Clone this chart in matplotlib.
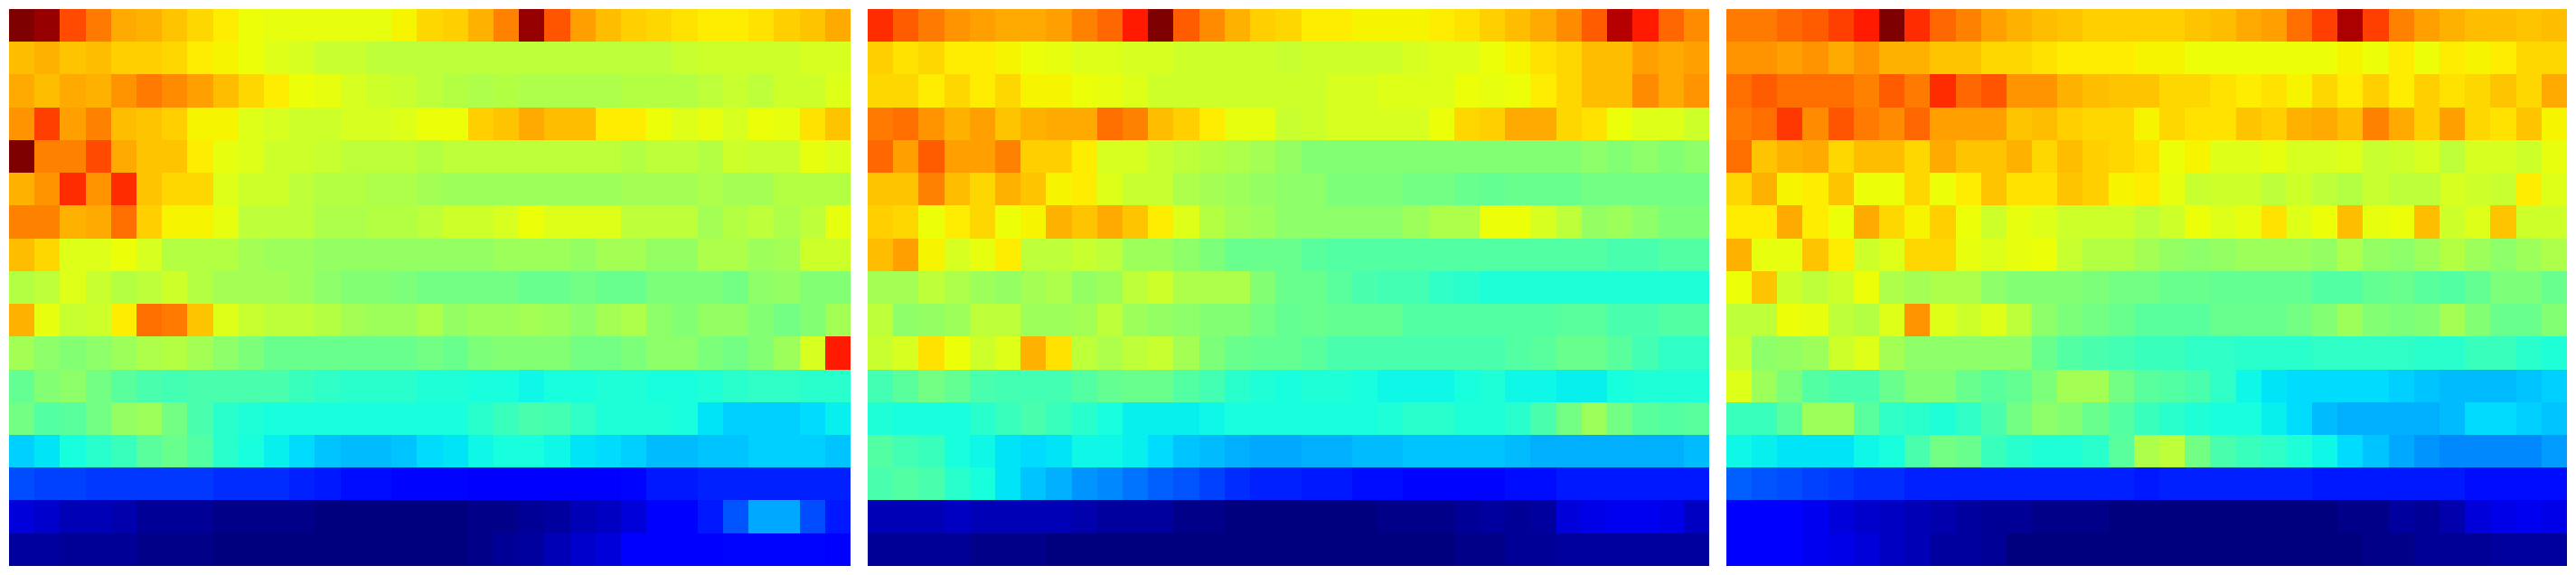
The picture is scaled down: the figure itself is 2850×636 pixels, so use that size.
import numpy as np
import matplotlib
matplotlib.use('Agg')
import matplotlib.pyplot as plt

panel_left = [
    [100,98,83,78,73,72,70,68,66,64,63,63,63,63,63,65,68, 69,72,77,98,82,74,71,69,68,67,66,66,67,69,70,73],
    [71,72,70,71,69,69,68,66,65,64,62,61,59,59,58,58,58, 58,58,58,58,58,58,58,58,58,59,60,60,60,60,61,61],
    [73,71,73,72,75,78,76,74,71,68,66,64,63,61,60,59,58, 57,56,57,56,56,56,56,57,57,57,58,59,58,60,60,62],
    [75,84,74,77,71,70,69,65,65,62,61,60,60,61,61,62,64, 64,69,70,73,71,71,66,66,64,62,63,61,64,63,67,70],
    [100,77,77,83,73,70,70,66,63,62,60,60,59,58,58,58,57, 58,58,58,58,58,58,58,57,58,58,57,60,59,59,63,62],
    [72,75,86,75,86,70,68,68,62,60,60,58,57,57,56,56,55, 54,54,54,54,54,54,54,55,55,55,56,55,55,57,57,57],
    [77,77,72,73,79,69,65,65,63,58,58,58,56,56,57,57,58, 60,60,61,64,62,62,62,58,58,58,55,57,58,56,58,63],
    [71,68,62,62,64,61,57,57,57,55,54,54,53,53,53,53,53, 53,53,54,54,54,53,55,55,53,53,56,56,54,55,60,60],
    [57,58,62,59,57,58,60,57,55,55,55,54,52,51,51,50,49, 49,49,49,48,48,49,48,48,50,50,50,49,52,53,51,51],
    [72,63,59,60,66,79,78,70,62,59,58,58,57,55,54,54,56, 53,54,54,55,54,52,55,56,52,51,53,53,51,49,51,55],
    [55,52,51,52,54,56,57,55,52,50,48,48,48,48,48,48,49, 48,50,51,51,51,49,49,50,52,52,50,49,51,54,61,88],
    [47,51,52,49,46,44,43,44,44,44,44,42,41,40,40,40,39, 39,38,38,37,38,38,39,39,38,38,39,40,41,41,40,40],
    [49,45,46,49,53,54,49,44,40,39,38,38,38,38,38,38,38, 38,40,42,44,43,41,39,39,39,38,35,33,33,33,34,36],
    [33,35,38,40,42,46,48,45,40,38,36,34,32,31,31,32,34, 35,37,38,38,37,35,34,33,31,31,32,32,33,33,33,32],
    [20,19,19,18,18,18,18,18,17,17,17,16,15,14,14,13,13, 13,12,12,12,12,12,12,13,15,15,16,16,16,16,16,16],
    [8,7,5,5,4,2,2,2,1,1,1,1,0,0,0,0,0, 0,1,1,2,3,5,6,8,11,12,15,21,29,29,20,15],
    [3,3,2,2,2,1,1,1,0,0,0,0,0,0,0,0,0, 0,1,2,3,5,7,8,11,11,11,12,13,13,13,13,12],
]

panel_mid = [
    [86,81,78,75,74,73,73,74,77,80,88,100,81,76,72,69,68, 66,66,65,65,65,66,67,69,71,73,76,81,95,88,80,76],
    [69,67,68,66,66,65,64,63,62,62,61,61,60,60,60,60,59, 60,60,60,60,61,62,62,64,65,67,68,71,71,74,73,74],
    [68,68,66,68,66,68,65,65,64,63,62,60,60,60,60,60,60, 60,61,61,62,62,62,64,63,64,66,68,71,71,76,73,75],
    [78,79,75,72,74,70,72,73,73,79,77,71,69,66,63,63,59, 60,61,61,61,61,64,68,69,73,73,68,67,64,62,62,60],
    [80,74,81,74,74,77,69,69,66,61,61,59,58,57,56,55,53, 51,51,51,51,51,51,51,51,51,51,51,52,51,52,51,52],
    [70,70,77,71,68,72,70,65,66,62,59,59,56,55,54,53,52, 52,50,50,50,49,49,48,47,48,48,48,49,49,49,49,49],
    [69,68,64,66,68,64,65,72,70,73,70,66,62,57,55,54,52, 52,52,52,52,54,56,56,64,64,61,58,53,54,52,50,50],
    [71,74,65,61,63,66,58,58,59,58,54,54,52,50,48,48,48, 46,45,45,45,45,45,45,45,45,45,45,45,44,44,45,45],
    [55,55,58,56,54,53,55,56,53,54,58,60,56,56,56,51,48, 48,46,44,43,43,41,40,39,39,39,39,39,39,39,39,39],
    [58,52,53,54,58,58,54,54,55,58,54,53,52,51,51,49,47, 48,47,47,47,45,45,45,45,45,45,46,46,44,44,45,45],
    [59,61,67,64,60,62,72,67,58,56,58,59,55,50,48,47,47, 46,44,44,44,44,44,44,44,45,46,48,48,46,43,41,41],
    [43,46,49,47,44,43,43,43,45,47,48,48,45,43,40,39,38, 39,39,38,37,37,37,38,39,37,37,36,36,38,39,39,39],
    [39,38,38,38,40,42,44,42,40,38,36,36,36,37,38,38,38, 38,38,38,39,40,40,39,39,40,44,49,54,49,46,45,46],
    [45,43,42,38,37,35,34,35,37,37,36,34,32,31,30,29,29, 30,30,31,31,32,32,32,32,31,30,30,30,30,30,30,31],
    [44,45,44,40,38,35,32,30,27,26,24,22,21,19,17,16,16, 15,15,14,14,13,13,13,13,14,14,15,15,15,15,15,15],
    [5,5,5,6,5,5,5,5,4,3,3,3,1,1,0,0,0, 0,0,0,1,1,1,2,3,2,3,8,9,10,10,9,6],
    [2,2,2,2,1,1,1,0,0,0,0,0,0,0,0,0,0, 0,0,0,0,0,0,1,1,2,2,3,3,3,3,3,3],
]

panel_right = [
    [78,78,80,81,84,88,100,86,80,77,74,72,71,70,69,69,69, 69,70,71,73,74,79,84,96,84,77,74,72,71,71,70,71],
    [75,75,74,75,73,75,72,72,70,70,68,68,67,66,66,66,65, 65,64,64,64,64,64,64,65,64,66,64,66,65,66,68,68],
    [79,81,79,79,79,77,81,78,86,80,82,75,75,72,71,70,70, 68,68,67,66,67,65,68,66,69,66,69,67,68,70,68,73],
    [78,79,85,76,82,78,76,80,74,74,74,70,71,69,68,68,65, 68,67,67,70,69,72,73,71,77,73,69,74,68,67,70,65],
    [79,70,72,73,68,71,71,68,73,70,70,72,68,71,69,68,67, 64,65,62,62,63,61,61,62,59,60,61,58,61,61,60,63],
    [68,72,65,66,70,64,64,68,64,66,70,67,67,70,69,65,66, 63,59,60,60,58,60,58,57,59,58,58,61,60,59,66,62],
    [66,66,73,66,64,73,68,65,69,64,60,63,62,60,60,60,58, 60,64,62,63,67,62,64,71,63,64,71,60,62,70,60,60],
    [72,63,63,70,66,60,62,68,68,63,62,63,64,59,57,57,55, 53,52,53,54,54,54,53,56,53,52,54,57,54,52,54,56],
    [64,70,60,58,60,64,56,55,56,56,52,51,51,51,50,49,49, 48,48,47,47,47,47,45,45,47,48,46,45,47,50,50,48],
    [58,58,64,63,58,57,62,75,62,60,62,58,52,50,49,48,46, 46,46,48,48,48,49,51,54,51,50,51,55,51,48,48,51],
    [59,52,53,54,60,62,55,52,52,52,52,52,48,45,44,43,42, 42,41,41,40,40,40,41,41,41,41,40,40,42,42,40,39],
    [62,54,50,45,44,44,48,51,51,48,46,47,50,55,55,49,46, 45,44,41,37,35,34,34,34,34,33,32,31,31,31,32,33],
    [42,42,46,54,54,46,41,40,39,41,44,49,52,51,48,45,42, 40,39,38,38,36,34,31,30,30,30,30,31,34,34,33,32],
    [37,36,35,35,35,37,38,44,49,48,42,40,39,39,40,46,56, 58,49,44,42,41,39,37,34,32,29,27,26,26,26,26,28],
    [22,21,20,19,18,17,17,16,16,16,16,16,16,16,16,16,15, 16,16,16,16,16,16,15,15,15,15,15,15,14,14,14,14],
    [11,12,12,10,8,7,6,5,4,3,2,2,1,1,1,0,0, 0,0,0,0,0,0,0,1,1,3,2,4,8,9,10,9],
    [11,12,12,10,9,8,6,5,3,3,2,0,0,0,0,0,0, 0,0,0,0,0,0,0,0,1,1,2,2,2,3,3,3],
]

W, H = 2850, 636
fig = plt.figure(figsize=(W / 100, H / 100), dpi=100)

# pixel left edge of each panel
lefts = [10, 960, 1910]
for left, panel in zip(lefts, [panel_left, panel_mid, panel_right]):
    ax = fig.add_axes([left / W, 10 / H, 930 / W, 616 / H])
    ax.imshow(np.array(panel), cmap='jet', vmin=0, vmax=100, aspect='auto', interpolation='nearest')
    ax.axis('off')

fig.savefig('out.png', dpi=100)
